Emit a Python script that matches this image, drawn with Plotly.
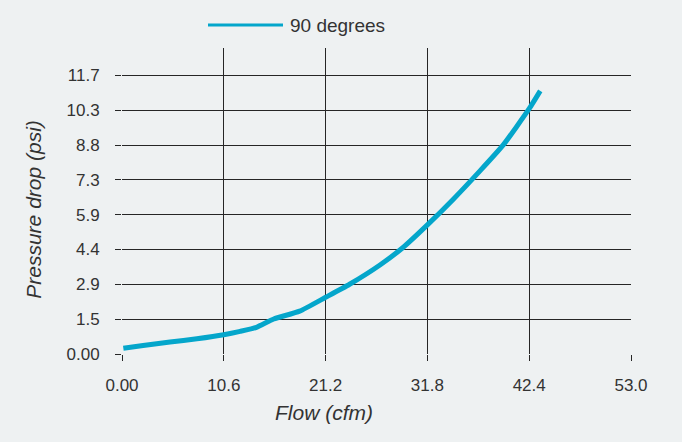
import plotly.graph_objects as go

flow_cfm = [0.14, 2.2, 5.0, 7.8, 10.6, 12.3, 14.0, 15.8, 18.5, 21.2,
            23.7, 26.9, 29.2, 31.8, 34.5, 37.3, 39.7, 42.4, 43.55]
pressure_psi = [0.24, 0.36, 0.50, 0.64, 0.81, 0.95, 1.12, 1.47, 1.80, 2.38,
                2.93, 3.75, 4.45, 5.42, 6.50, 7.70, 8.78, 10.30, 11.05]

x_ticks = [0, 10.6, 21.2, 31.8, 42.4, 53.0]
x_labels = ["0.00", "10.6", "21.2", "31.8", "42.4", "53.0"]
y_ticks = [k * 11.7 / 8 for k in range(9)]
y_labels = ["0.00", "1.5", "2.9", "4.4", "5.9", "7.3", "8.8", "10.3", "11.7"]

SERIES = "90 degrees"
LINE_COLOR = "#04a6cb"
BG = "#eef1f2"
GRID = "#262626"
TEXT = "#333333"
FONT = "Liberation Sans, Arial, sans-serif"

# plot box in pixels, used to place the hand-made legend and titles
L, R, T, B = 122, 631, 48, 354.5
W, H = R - L, B - T


def px_x(p):
    return (p - L) / W


def px_y(p):
    return (B - p) / H


fig = go.Figure()
fig.add_trace(go.Scatter(
    x=flow_cfm, y=pressure_psi, mode="lines", name=SERIES,
    line={"color": LINE_COLOR, "width": 5, "shape": "spline", "smoothing": 0.5},
    showlegend=False,
))

axis_common = dict(
    showgrid=True, gridcolor=GRID, gridwidth=1, zeroline=False, showline=False,
    ticks="outside", ticklen=6, tickcolor=GRID, tickwidth=1,
    tickfont={"size": 17, "color": TEXT, "family": FONT},
)
fig.update_xaxes(range=[0, 53], tickvals=x_ticks, ticktext=x_labels,
                 ticklabelstandoff=10, **axis_common)
fig.update_yaxes(range=[0, 12.85], tickvals=y_ticks, ticktext=y_labels,
                 ticklabelstandoff=12, **axis_common)

# legend drawn by hand so the sample line matches the original length
fig.add_shape(type="line", xref="paper", yref="paper", x0=px_x(208), x1=px_x(283),
              y0=px_y(25), y1=px_y(25), line={"color": LINE_COLOR, "width": 3})
fig.add_annotation(text=SERIES, xref="paper", yref="paper", x=px_x(288), y=px_y(25),
                   xanchor="left", yanchor="middle", showarrow=False,
                   font={"size": 19, "color": TEXT, "family": FONT})

fig.add_annotation(text="<i>Flow (cfm)</i>", xref="paper", yref="paper",
                   x=px_x(324), y=px_y(413), xanchor="center", yanchor="middle",
                   showarrow=False, font={"size": 21, "color": TEXT, "family": FONT})
fig.add_annotation(text="<i>Pressure drop (psi)</i>", xref="paper", yref="paper",
                   x=px_x(34), y=px_y(210), xanchor="center", yanchor="middle",
                   textangle=-90, showarrow=False, font={"size": 21, "color": TEXT, "family": FONT})

fig.update_layout(
    width=682, height=442,
    paper_bgcolor=BG, plot_bgcolor=BG,
    margin={"l": L, "r": 682 - R, "t": T, "b": 442 - B},
    font={"family": FONT, "color": TEXT},
)

fig.write_html("out.html", config={"displayModeBar": False},
               post_script="document.body.style.margin='0';")
